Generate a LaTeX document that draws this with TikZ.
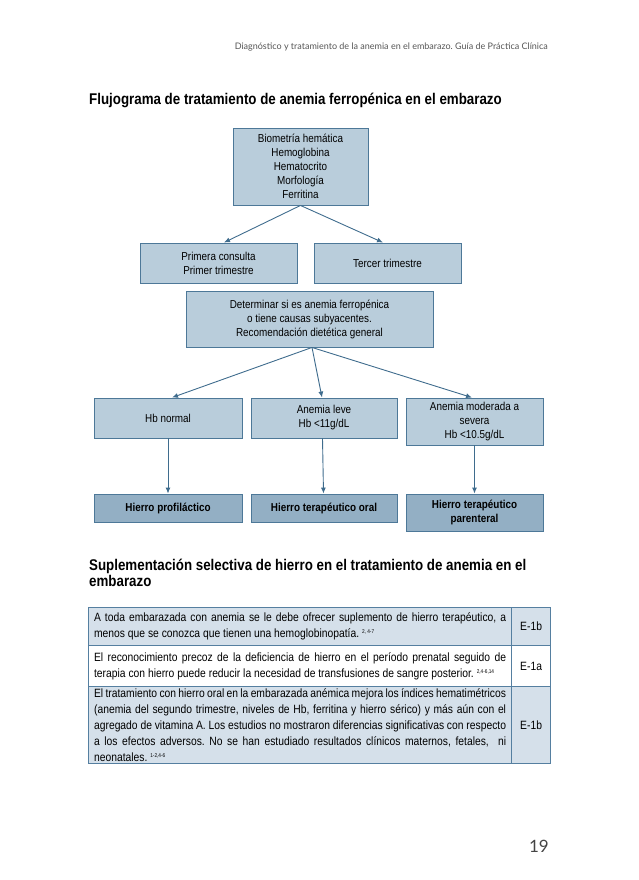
\documentclass[tikz,border=0pt]{standalone}
\usepackage{fontspec}
\setmainfont{Liberation Sans}
\newfontfamily\narrow[FakeStretch=0.86]{Liberation Sans}
\newfontfamily\headfont{Lato}
\usetikzlibrary{arrows.meta,positioning}
\definecolor{boxfill}{HTML}{B9CDDB}
\definecolor{boxdark}{HTML}{93AFC4}
\definecolor{boxline}{HTML}{4D7898}
\definecolor{arrowc}{HTML}{3F6C8D}
\definecolor{rowfill}{HTML}{D5E0EA}
\definecolor{tabline}{HTML}{557FA0}
\definecolor{headgrey}{HTML}{555555}
\definecolor{numgrey}{HTML}{444444}
\frenchspacing
\newcommand{\citesup}[1]{\raisebox{4pt}{\fontsize{5.5}{6}\selectfont #1}}
\tikzset{>={Latex[width=5pt,length=6pt]}}
\tikzset{box/.style={shape=rectangle, draw=boxline, fill=boxfill, line width=0.9pt,
    align=center, inner sep=2pt, font=\narrow\fontsize{11.5}{14}\selectfont}}
\tikzset{result/.style={box, fill=boxdark, font=\narrow\bfseries\fontsize{11.5}{14}\selectfont}}
\tikzset{cell/.style={shape=rectangle, draw=tabline, line width=1.2pt, inner sep=0pt,
    anchor=north west, font=\narrow\fontsize{12}{15.8}\selectfont\frenchspacing}}
\tikzset{row/.style={cell, minimum width=423pt, text width=412pt, align=justify}}
\tikzset{level/.style={cell, minimum width=39pt, align=center}}
\tikzset{heading/.style={anchor=base west, inner sep=0pt, align=left,
    font=\narrow\bfseries\fontsize{15.5}{16}\selectfont}}

\begin{document}
\begin{tikzpicture}[x=1pt, y=-1pt]
  \useasboundingbox (0,0) rectangle (638,880);

    %%%% page header
    \node(head) at (548,50) [anchor=base east, inner sep=0pt, text=headgrey,
      font=\headfont\fontsize{9}{10}\selectfont]
      {Diagnóstico y tratamiento de la anemia en el embarazo. Guía de Práctica Clínica};
    \node(title) at (89,105) [heading]
      {Flujograma de tratamiento de anemia ferropénica en el embarazo};

    %%%% Flow chart
    \node[box](bio) at (300.5,166.5) [minimum width=135pt, minimum height=77pt]
      {Biometría hemática\\Hemoglobina\\Hematocrito\\Morfología\\Ferritina};
    \node[box](prim) at (218.5,263) [minimum width=157pt, minimum height=40pt]
      {Primera consulta\\Primer trimestre};
    \node[box](terc) at (387.5,263) [minimum width=147pt, minimum height=40pt]
      {Tercer trimestre};
    \node[box](det) at (309.5,319) [minimum width=247pt, minimum height=56pt]
      {Determinar si es anemia ferropénica\\o tiene causas subyacentes.\\Recomendación dietética general};
    \node[box](hbn) at (168,418) [minimum width=148pt, minimum height=40pt]
      {Hb normal};
    \node[box](leve) at (324,418) [minimum width=146pt, minimum height=40pt]
      {Anemia leve\\Hb <11g/dL};
    \node[box](mod) at (474.5,421.5) [minimum width=137pt, minimum height=47pt]
      {Anemia moderada a\\severa\\Hb <10.5g/dL};
    \node[result](hpro) at (168,508) [minimum width=148pt, minimum height=28pt]
      {Hierro profiláctico};
    \node[result](hora) at (324,508) [minimum width=146pt, minimum height=28pt]
      {Hierro terapéutico oral};
    \node[result](hpar) at (474.5,512.5) [minimum width=137pt, minimum height=37pt]
      {Hierro terapéutico\\parenteral};

    \draw [->][draw=arrowc, line width=0.9pt] (bio.south) to ([xshift=5.5pt]prim.north);
    \draw [->][draw=arrowc, line width=0.9pt] (bio.south) to ([xshift=-4.5pt]terc.north);
    \draw [->][draw=arrowc, line width=0.9pt] ([xshift=2.5pt]det.south) to ([xshift=4pt]hbn.north);
    \draw [->][draw=arrowc, line width=0.9pt] ([xshift=2.5pt]det.south) to ([xshift=-2pt]leve.north);
    \draw [->][draw=arrowc, line width=0.9pt] ([xshift=2.5pt]det.south) to ([xshift=-2.5pt]mod.north);
    \draw [->][draw=arrowc, line width=0.9pt] (hbn) to (hpro);
    \draw [->][draw=arrowc, line width=0.9pt] ([xshift=-1.5pt]leve.south) to ([xshift=-0.5pt]hora.north);
    \draw [->][draw=arrowc, line width=0.9pt] (mod) to (hpar);

    %%%% Table
    \node(title2) at (89,586) [heading]
      {Suplementación selectiva de hierro en el tratamiento de anemia en el\\embarazo};

    \node[row](r1) at (88,607) [fill=rowfill, minimum height=38pt]
      {A toda embarazada con anemia se le debe ofrecer suplemento de hierro terapéutico, a\linebreak
       menos que se conozca que tienen una hemoglobinopatía. \citesup{2, 4-7}};
    \node[level](l1) at (511,607) [fill=rowfill, minimum height=38pt] {E-1b};
    \node[row](r2) at (88,645) [fill=white, minimum height=41pt]
      {El reconocimiento precoz de la deficiencia de hierro en el período prenatal seguido de\linebreak
       terapia con hierro puede reducir la necesidad de transfusiones de sangre posterior. \citesup{2,4-6,14}};
    \node[level](l2) at (511,645) [fill=white, minimum height=41pt] {E-1a};
    \node[row](r3) at (88,686) [fill=rowfill, minimum height=77pt]
      {El tratamiento con hierro oral en la embarazada anémica mejora los índices hematimétricos\linebreak
       (anemia del segundo trimestre, niveles de Hb, ferritina y hierro sérico) y más aún con el\linebreak
       agregado de vitamina A. Los estudios no mostraron diferencias significativas con respecto\linebreak
       a los efectos adversos. No se han estudiado resultados clínicos maternos, fetales,\ \ ni\linebreak
       neonatales. \citesup{1-2,4-6}};
    \node[level](l3) at (511,686) [fill=rowfill, minimum height=77pt] {E-1b};

    %%%% page number
    \node(page) at (549,852) [anchor=base east, inner sep=0pt, text=numgrey,
      font=\headfont\fontsize{17}{20}\selectfont] {19};

\end{tikzpicture}
\end{document}
